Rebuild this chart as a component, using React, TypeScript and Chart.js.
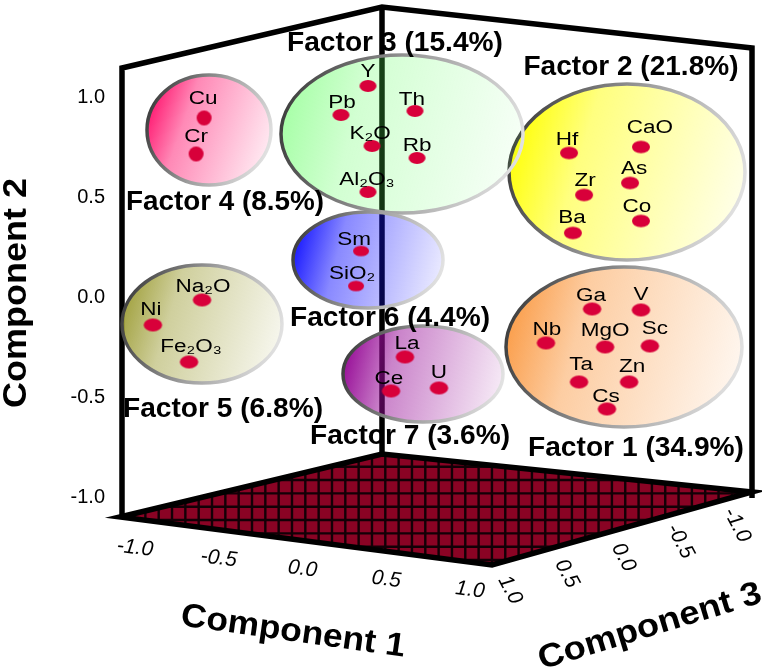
import React, { useEffect, useRef } from "react";
import { Chart, registerables } from "chart.js";

Chart.register(...registerables);

// ---- values (x = projected position on Component 1 scale, y = Component 2)
const factor1Names = ["Ga", "V", "Nb", "MgO", "Sc", "Ta", "Zn", "Cs"];
const factor1X = [1.538, 1.801, 1.29, 1.608, 1.849, 1.468, 1.737, 1.618];
const factor1Y = [-0.06, -0.065, -0.23, -0.25, -0.245, -0.425, -0.425, -0.56];
const factor2Names = ["CaO", "Hf", "As", "Zr", "Co", "Ba"];
const factor2X = [1.801, 1.414, 1.742, 1.495, 1.801, 1.435];
const factor2Y = [0.75, 0.72, 0.57, 0.51, 0.38, 0.32];
const factor3Names = ["Y", "Pb", "Th", "K₂O", "Rb", "Al₂O₃"];
const factor3X = [0.333, 0.188, 0.586, 0.355, 0.597, 0.333];
const factor3Y = [1.055, 0.91, 0.93, 0.755, 0.695, 0.525];
const factor4Names = ["Cu", "Cr"];
const factor4X = [-0.548, -0.591];
const factor4Y = [0.895, 0.715];
const factor5Names = ["Na₂O", "Ni", "Fe₂O₃"];
const factor5X = [-0.559, -0.823, -0.629];
const factor5Y = [-0.015, -0.14, -0.325];
const factor6Names = ["Sm", "SiO₂"];
const factor6X = [0.296, 0.269];
const factor6Y = [0.23, 0.055];
const factor7Names = ["La", "Ce", "U"];
const factor7X = [0.532, 0.457, 0.715];
const factor7Y = [-0.3, -0.47, -0.455];

const factorTitles = [
  "Factor 1 (34.9%)", "Factor 2 (21.8%)", "Factor 3 (15.4%)", "Factor 4 (8.5%)",
  "Factor 5 (6.8%)", "Factor 6 (4.4%)", "Factor 7 (3.6%)",
];
const axisTicks = [-1.0, -0.5, 0.0, 0.5, 1.0];

// ---- styles and layout
const FONT = '"Liberation Sans", Arial, sans-serif';
const X_OF = (px: number) => (px - 306) / 186;
const Y_OF = (py: number) => (297 - py) / 200;

const groups = [
  { names: factor1Names, xs: factor1X, ys: factor1Y, size: [18.5, 13],
    off: [[-1,-13],[0,-15],[1,-13],[0,-16],[5,-17],[2,-17],[3,-15],[-1,-12]],
    rgb: "250,150,60", a0: 0.95, ell: [624, 347, 118, 80], title: [636, 449, 216] },
  { names: factor2Names, xs: factor2X, ys: factor2Y, size: [18, 12.5],
    off: [[9,-19],[-2,-13],[4,-14],[1,-14],[-4,-14],[-1,-15]],
    rgb: "255,255,0", a0: 1, ell: [627, 172, 118, 88], title: [631, 68, 215] },
  { names: factor3Names, xs: factor3X, ys: factor3Y, size: [17, 12],
    off: [[0,-14],[1,-12],[-3,-11],[-2,-12],[0,-12],[-1,-12]],
    rgb: "90,255,90", a0: 0.55, ell: [402, 134, 121, 79], title: [395, 44, 216] },
  { names: factor4Names, xs: factor4X, ys: factor4Y, size: [15, 15],
    off: [[-1,-19],[0,-17]],
    rgb: "255,20,110", a0: 1, ell: [209, 130, 62, 55], title: [225, 203, 198] },
  { names: factor5Names, xs: factor5X, ys: factor5Y, size: [18.5, 13],
    off: [[1,-13],[-2,-15],[2,-15]],
    rgb: "160,160,60", a0: 1, ell: [202, 324, 80, 59], title: [223, 410, 200] },
  { names: factor6Names, xs: factor6X, ys: factor6Y, size: [16, 10.5],
    off: [[-7,-11],[-4,-12]],
    rgb: "20,20,255", a0: 1, ell: [368, 260, 75, 48], title: [390, 319, 200] },
  { names: factor7Names, xs: factor7X, ys: factor7Y, size: [18.5, 13],
    off: [[2,-13],[-2,-12],[0,-15]],
    rgb: "150,10,150", a0: 1, ell: [423, 374, 80, 48], title: [410, 437, 200] },
];

const wallLeft = [[122, 517], [122, 68], [382, 7], [752, 48], [752, 498]];
const floor = [[120, 517], [382, 454], [752, 492], [492, 565]];

function dot(w: number, h: number) {
  const c = document.createElement("canvas");
  c.width = Math.ceil(w) + 2;
  c.height = Math.ceil(h) + 2;
  const g = c.getContext("2d")!;
  g.fillStyle = "#d8003a";
  g.beginPath();
  g.ellipse(c.width / 2, c.height / 2, w / 2, h / 2, 0, 0, Math.PI * 2);
  g.fill();
  return c;
}

function stretched(
  ctx: CanvasRenderingContext2D, text: string, cx: number, cy: number, font: string,
  opts: { width?: number; sx?: number; rot?: number; color?: string },
) {
  ctx.save();
  ctx.translate(cx, cy);
  if (opts.rot) ctx.rotate((opts.rot * Math.PI) / 180);
  ctx.font = font;
  const sx = opts.width ? opts.width / ctx.measureText(text).width : opts.sx ?? 1;
  ctx.scale(sx, 1);
  ctx.textAlign = "center";
  ctx.textBaseline = "middle";
  ctx.fillStyle = opts.color ?? "#000";
  ctx.fillText(text, 0, 0);
  ctx.restore();
}

const backdrop = {
  id: "backdrop",
  beforeDatasetsDraw(chart: any) {
    const { ctx, scales } = chart;
    const X = (px: number) => scales.x.getPixelForValue(X_OF(px));
    const Y = (py: number) => scales.y.getPixelForValue(Y_OF(py));
    ctx.save();
    // floor fill and grid
    ctx.beginPath();
    floor.forEach(([a, b], i) => (i ? ctx.lineTo(X(a), Y(b)) : ctx.moveTo(X(a), Y(b))));
    ctx.closePath();
    ctx.fillStyle = "#8a0324";
    ctx.fill();
    ctx.save();
    ctx.clip();
    ctx.strokeStyle = "#120006";
    ctx.lineWidth = 2.4;
    const step = 13.33;
    for (let k = 0; k < 50; k++) {
      const gx = 118.7 + k * step;
      ctx.beginPath();
      ctx.moveTo(X(gx), Y(440));
      ctx.lineTo(X(gx), Y(580));
      ctx.stroke();
    }
    for (let k = 0; k < 12; k++) {
      const gy = 453.4 + k * step;
      ctx.beginPath();
      ctx.moveTo(X(100), Y(gy));
      ctx.lineTo(X(760), Y(gy));
      ctx.stroke();
    }
    ctx.restore();
    // outline of floor and walls
    ctx.strokeStyle = "#000";
    ctx.lineWidth = 5.5;
    ctx.lineJoin = "miter";
    ctx.beginPath();
    floor.forEach(([a, b], i) => (i ? ctx.lineTo(X(a), Y(b)) : ctx.moveTo(X(a), Y(b))));
    ctx.closePath();
    ctx.stroke();
    ctx.beginPath();
    wallLeft.forEach(([a, b], i) => (i ? ctx.lineTo(X(a), Y(b)) : ctx.moveTo(X(a), Y(b))));
    ctx.stroke();
    ctx.beginPath();
    ctx.moveTo(X(382), Y(7));
    ctx.lineTo(X(382), Y(454));
    ctx.stroke();
    // factor ellipses
    groups.forEach((g) => {
      const [cx, cy, rx, ry] = g.ell;
      const x0 = X(cx), y0 = Y(cy);
      const fill = ctx.createLinearGradient(x0 - rx, y0 - ry * 0.4, x0 + rx, y0 + ry * 0.4);
      fill.addColorStop(0, `rgba(${g.rgb},${g.a0})`);
      fill.addColorStop(0.3, `rgba(${g.rgb},${g.a0 * 0.5})`);
      fill.addColorStop(1, `rgba(${g.rgb},${g.a0 * 0.08})`);
      const edge = ctx.createLinearGradient(x0 - rx, y0 - ry * 0.4, x0 + rx, y0 + ry * 0.4);
      edge.addColorStop(0, "rgba(60,60,60,1)");
      edge.addColorStop(0.5, "rgba(160,160,160,1)");
      edge.addColorStop(1, "rgba(228,228,228,1)");
      ctx.beginPath();
      ctx.ellipse(x0, y0, rx, ry, 0, 0, Math.PI * 2);
      ctx.fillStyle = fill;
      ctx.fill();
      ctx.lineWidth = 3.5;
      ctx.strokeStyle = edge;
      ctx.stroke();
    });
    ctx.restore();
  },
  afterDatasetsDraw(chart: any) {
    const { ctx, scales } = chart;
    const X = (v: number) => scales.x.getPixelForValue(v);
    const Y = (v: number) => scales.y.getPixelForValue(v);
    groups.forEach((g, gi) => {
      g.names.forEach((n, i) => {
        stretched(ctx, n, X(g.xs[i]) + g.off[i][0], Y(g.ys[i]) + g.off[i][1],
          `18px ${FONT}`, { sx: 1.25 });
      });
      const [tx, ty, tw] = g.title;
      stretched(ctx, factorTitles[gi], X(X_OF(tx)), Y(Y_OF(ty)), `bold 27px ${FONT}`, { width: tw });
    });
    // perspective axes on the floor
    const lerp = (a: number[], b: number[], t: number) => [a[0] + (b[0] - a[0]) * t, a[1] + (b[1] - a[1]) * t];
    axisTicks.forEach((v) => {
      const t = (v + 1) / 2;
      const p = lerp([135, 548], [470, 590], t);
      stretched(ctx, v.toFixed(1), X(X_OF(p[0])), Y(Y_OF(p[1])), `italic 21px ${FONT}`, { sx: 1, rot: 7 });
      const q = lerp([737, 525], [510, 590], t);
      stretched(ctx, v.toFixed(1), X(X_OF(q[0])), Y(Y_OF(q[1])), `italic 21px ${FONT}`, { sx: 1, rot: 62 });
    });
    stretched(ctx, "Component 1", 293, 632, `bold 33px ${FONT}`, { width: 226, rot: 8 });
    stretched(ctx, "Component 3", 650, 627, `bold 33px ${FONT}`, { width: 232, rot: -17 });
    stretched(ctx, "Component 2", 17, 293, `bold 33px ${FONT}`, { width: 230, rot: -90 });
  },
};

export default function App() {
  const ref = useRef<HTMLCanvasElement>(null);
  useEffect(() => {
    const chart = new Chart(ref.current!, {
      type: "scatter",
      data: {
        datasets: groups.map((g, gi) => ({
          label: factorTitles[gi],
          data: g.xs.map((x, i) => ({ x, y: g.ys[i] })),
          pointStyle: dot(g.size[0], g.size[1]) as any,
        })),
      },
      options: {
        animation: false,
        responsive: false,
        devicePixelRatio: 1,
        layout: { padding: 0, autoPadding: false },
        plugins: { legend: { display: false }, tooltip: { enabled: false } },
        scales: {
          x: { type: "linear", bounds: "data", min: X_OF(110), max: X_OF(762), display: false },
          y: {
            type: "linear",
            bounds: "data",
            min: Y_OF(672),
            max: Y_OF(0),
            grid: { display: false, drawTicks: false },
            border: { display: false },
            afterFit: (s: any) => {
              s.width = 110;
              s.paddingTop = 0;
              s.paddingBottom = 0;
            },
            afterBuildTicks: (s: any) => { s.ticks = axisTicks.map((value) => ({ value })); },
            ticks: {
              color: "#000",
              padding: 5,
              font: { family: FONT, size: 20 },
              callback: (v: any) => Number(v).toFixed(1),
            },
          },
        },
      },
      plugins: [backdrop as any],
    });
    return () => chart.destroy();
  }, []);
  return (
    <div style={{ position: "absolute", left: 0, top: 0, width: 762, height: 672, background: "#fff" }}>
      <canvas ref={ref} width={762} height={672} style={{ display: "block" }} />
    </div>
  );
}
